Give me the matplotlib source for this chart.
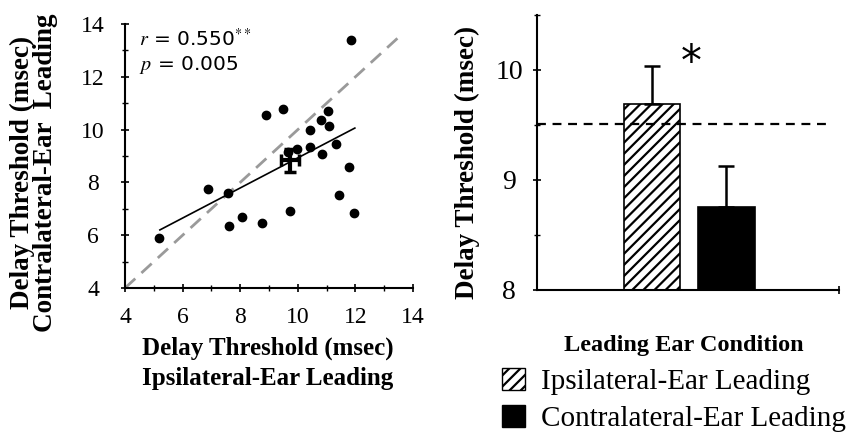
import matplotlib
matplotlib.use("Agg")
import matplotlib.pyplot as plt
import matplotlib.patches as mpatches
from matplotlib.ticker import MultipleLocator

plt.rcParams['font.family'] = ['Liberation Serif', 'DejaVu Serif']
plt.rcParams['mathtext.fontset'] = 'stix'
plt.rcParams['hatch.linewidth'] = 1.6

# Данные для диаграммы рассеяния (мс)
ipsi_x = [5.19, 6.89, 7.62, 7.58, 8.05, 8.77, 8.91, 9.47, 9.72, 9.66, 9.97,
          10.42, 10.42, 10.80, 10.84, 11.06, 11.09, 11.33, 11.43, 11.78, 11.94, 11.86]
contra_y = [5.89, 7.74, 6.35, 7.58, 6.68, 6.48, 10.54, 10.78, 6.92, 9.17, 9.28,
            10.00, 9.36, 10.38, 9.09, 10.69, 10.14, 9.47, 7.51, 8.59, 6.83, 13.40]

# Среднее и ошибки
mean_x, mean_y = 9.73, 8.83
err_x, err_y = 0.31, 0.45

# Линия регрессии
fit_slope, fit_intercept = 0.57, 3.23
fit_range = [5.21, 11.98]
identity_range = [4.0, 13.6]

# Данные для столбчатой диаграммы
conditions = ["Ipsilateral-Ear Leading", "Contralateral-Ear Leading"]
bar_means = [9.69, 8.75]
bar_errs = [0.35, 0.38]
reference_level = 9.51

W, H = 846, 437
fig = plt.figure(figsize=(W / 100, H / 100), dpi=100)

def px(x, y):
    # пиксели (от левого верхнего угла) -> доли фигуры
    return x / W, 1 - y / H

# Левая панель: диаграмма рассеяния
ax1 = fig.add_axes([0.1478, 0.341, 0.3404, 0.604])
ax1.plot(identity_range, identity_range, color='#9a9a9a', lw=2, dashes=(5, 3))
ax1.plot(fit_range, [fit_intercept + fit_slope * v for v in fit_range], color='black', lw=1.2)
ax1.plot(ipsi_x, contra_y, 'o', color='black', ms=6)
ax1.errorbar([mean_x], [mean_y], xerr=[err_x], yerr=[err_y], fmt='none',
             ecolor='black', elinewidth=3, capsize=4, capthick=2.5)

ax1.set_xlim(4, 14)
ax1.set_ylim(4, 14)
ax1.xaxis.set_major_locator(MultipleLocator(2))
ax1.yaxis.set_major_locator(MultipleLocator(2))
ax1.xaxis.set_minor_locator(MultipleLocator(1))
ax1.yaxis.set_minor_locator(MultipleLocator(1))
for s in ['top', 'right']:
    ax1.spines[s].set_visible(False)
for s in ['left', 'bottom']:
    ax1.spines[s].set_linewidth(1.5)
ax1.tick_params(which='major', direction='inout', length=6, width=1.2, labelsize=17)
ax1.tick_params(which='minor', direction='inout', length=4, width=1.0)
ax1.tick_params(axis='x', which='major', pad=11)
ax1.tick_params(axis='y', which='major', pad=20)
for lbl in ax1.get_yticklabels():
    lbl.set_horizontalalignment('center')

lab = dict(fontweight='bold', ha='center', va='center')
fig.text(*px(268, 348), "Delay Threshold (msec)", fontsize=18, **lab)
fig.text(*px(268, 378), "Ipsilateral-Ear Leading", fontsize=18, **lab)
fig.text(*px(22, 172), "Delay Threshold (msec)", fontsize=19.5, rotation=90, **lab)
fig.text(*px(45, 173), "Contralateral-Ear  Leading", fontsize=19.5, rotation=90, **lab)

ax1.text(0.05, 0.985, r"$r$ = 0.550$^{**}$", transform=ax1.transAxes,
         family='DejaVu Sans', fontsize=14.5, va='top', ha='left')
ax1.text(0.05, 0.885, r"$p$ = 0.005", transform=ax1.transAxes,
         family='DejaVu Sans', fontsize=14.5, va='top', ha='left')

# Правая панель: столбцы
ax2 = fig.add_axes([0.6348, 0.3364, 0.3569, 0.6293])
positions = [0.381, 0.627]
bars = ax2.bar(positions, [m - 8 for m in bar_means], bottom=8, width=0.188,
               color=['white', 'black'], edgecolor='black', linewidth=1.2)
bars[0].set_hatch('///')
ax2.errorbar(positions, bar_means, yerr=[[0, 0], bar_errs], fmt='none',
             ecolor='black', elinewidth=1.8, capsize=6, capthick=1.8)
ax2.axhline(reference_level, xmin=0, xmax=0.97, color='black', lw=1.6, dashes=(4, 3))
ax2.text(0.51, 10.06, "*", fontsize=30, ha='center', va='center', family='DejaVu Sans')

ax2.set_xlim(0, 1)
ax2.set_ylim(8, 10.5)
ax2.yaxis.set_major_locator(MultipleLocator(1))
ax2.yaxis.set_minor_locator(MultipleLocator(0.5))
ax2.set_xticks([1])
ax2.set_xticklabels([''])
for s in ['top', 'right']:
    ax2.spines[s].set_visible(False)
for s in ['left', 'bottom']:
    ax2.spines[s].set_linewidth(1.5)
ax2.tick_params(axis='y', which='major', direction='inout', length=6, width=1.2,
                labelsize=20, pad=17)
ax2.tick_params(axis='y', which='minor', direction='inout', length=4, width=1.0)
ax2.tick_params(axis='x', direction='inout', length=6, width=1.2)
for lbl in ax2.get_yticklabels():
    lbl.set_horizontalalignment('center')

fig.text(*px(467, 162), "Delay Threshold (msec)", fontsize=19.5, rotation=90, **lab)
fig.text(*px(684, 345), "Leading Ear Condition", fontsize=17.5, **lab)

# Легенда
handles = [mpatches.Patch(facecolor='white', edgecolor='black', hatch='///', label=conditions[0]),
           mpatches.Patch(facecolor='black', edgecolor='black', label=conditions[1])]
fig.legend(handles=handles, loc='upper left', bbox_to_anchor=(0.593, 0.158),
           frameon=False, fontsize=21, handlelength=0.8, handleheight=0.8,
           handletextpad=0.55, labelspacing=0.33, borderpad=0, borderaxespad=0)

fig.savefig("out.png", dpi=100)
